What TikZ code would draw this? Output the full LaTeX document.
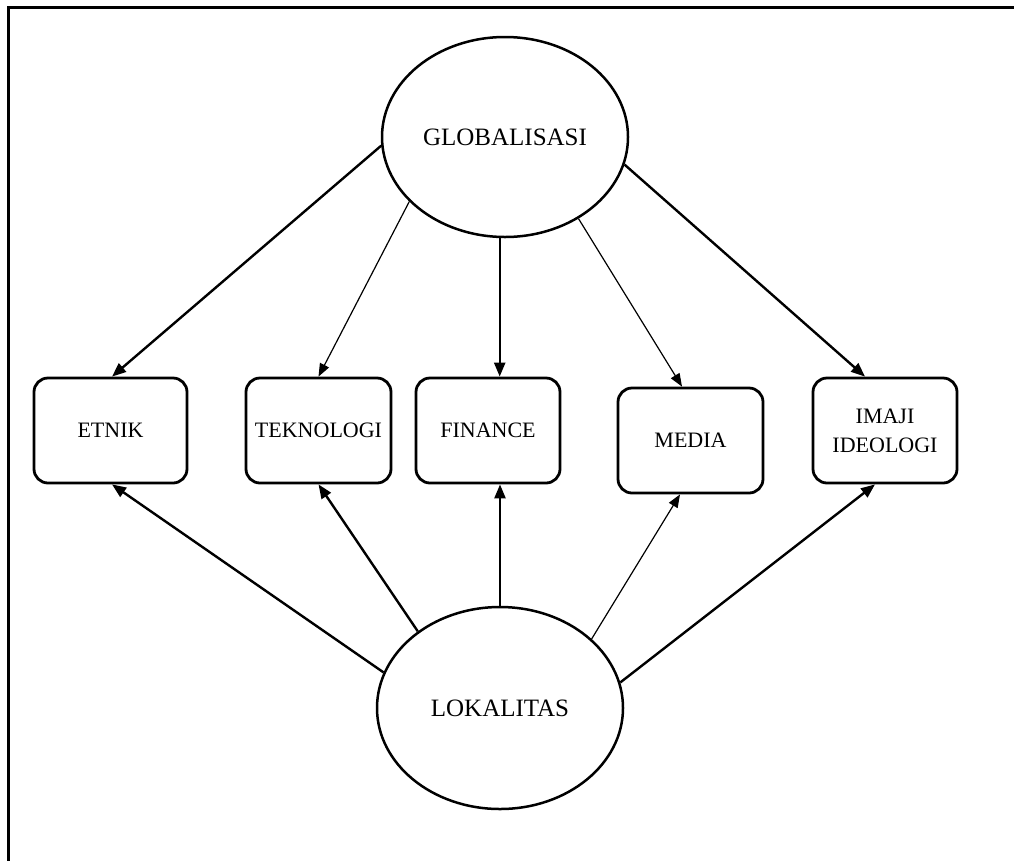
\documentclass[tikz,border=0pt]{standalone}
\usepackage{fontspec}
\setmainfont{Liberation Serif}
\usetikzlibrary{shapes.geometric,arrows.meta}
\begin{document}
\begin{tikzpicture}[x=1pt,y=-1pt,
  oval/.style={draw,line width=2.5pt,ellipse,inner sep=0pt,minimum width=246pt,minimum height=200pt,font=\fontsize{25}{30}\selectfont},
  rbox/.style={draw,line width=2.8pt,rounded corners=14pt,inner sep=0pt,minimum width=144pt,minimum height=105pt,align=center,font=\fontsize{22}{29}\selectfont},
  thickarrow/.style={line width=2.4pt,-{Triangle[length=14pt,width=11pt]}},
  thinarrow/.style={line width=1.2pt,-{Triangle[length=13pt,width=10pt]}},
  frameline/.style={line width=3pt}]
\useasboundingbox (0,0) rectangle (1014,860);
\draw[frameline] (8.3,861) -- (8.3,7) -- (1015,7);

\node[oval] (G) at (505,137) {GLOBALISASI};
\node[oval,minimum height=202pt] (L) at (500,708) {LOKALITAS};

\node[rbox,minimum width=153pt] (E) at (110.5,430.5) {ETNIK};
\node[rbox,minimum width=145pt] (T) at (318.5,430.5) {TEKNOLOGI};
\node[rbox,minimum width=144pt] (F) at (488,430.5) {FINANCE};
\node[rbox,minimum width=145pt] (M) at (690.5,440.5) {MEDIA};
\node[rbox,minimum width=144pt] (I) at (885,430.5) {IMAJI\\IDEOLOGI};

% from GLOBALISASI
\draw[thickarrow] (G.184.6) -- ([xshift=1.5pt]E.north);
\draw[thinarrow] (G.214.8) -- (T.north);
\draw[thickarrow] (G.267) -- (G.267 |- F.north);
\draw[thinarrow] (G.312) -- ([xshift=-8.5pt]M.north);
\draw[thickarrow] (G.347.8) -- ([xshift=-20pt]I.north);

% from LOKALITAS
\draw[thickarrow] (L.163.8) -- ([xshift=1.5pt]E.south);
\draw[thickarrow] (L.137.5) -- (T.south);
\draw[thickarrow] (L.north) -- (L.north |- F.south);
\draw[thinarrow] (L.37.7) -- ([xshift=-10.5pt]M.south);
\draw[thickarrow] (L.12.1) -- ([xshift=-10pt]I.south);
\end{tikzpicture}
\end{document}
